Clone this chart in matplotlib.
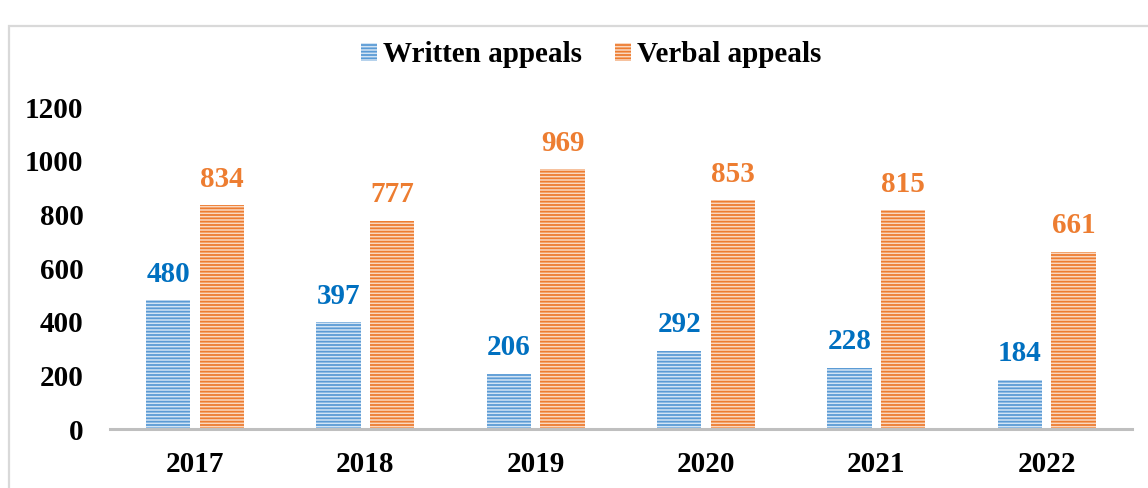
import matplotlib
matplotlib.use("Agg")
import matplotlib.pyplot as plt
import numpy as np
from matplotlib.patches import Rectangle

years = ["2017", "2018", "2019", "2020", "2021", "2022"]
written = [480, 397, 206, 292, 228, 184]
verbal = [834, 777, 969, 853, 815, 661]
series_names = ["Written appeals", "Verbal appeals"]
yticks = [0, 200, 400, 600, 800, 1000, 1200]

plt.rcParams['font.family'] = ['Liberation Serif', 'DejaVu Serif']
plt.rcParams['hatch.linewidth'] = 1.3

fig = plt.figure(figsize=(11.48, 4.88), dpi=100)
ax = fig.add_axes([0.0958, 0.1209, 0.8902, 0.6598])

x = np.arange(len(years))
w = 0.26
gap = 0.055
blue_line, blue_fill = "#5B9BD5", "#D3E4F4"
orange_line, orange_fill = "#ED7D31", "#FAD8C1"

FS = 21

b1 = ax.bar(x - (w + gap) / 2, written, w, color=blue_fill, edgecolor=blue_line,
            linewidth=0, hatch="-----", label=series_names[0])
b2 = ax.bar(x + (w + gap) / 2, verbal, w, color=orange_fill, edgecolor=orange_line,
            linewidth=0, hatch="-----", label=series_names[1])

for xi, v in zip(x - (w + gap) / 2, written):
    ax.annotate(str(v), (xi, v), xytext=(0, 9), textcoords="offset points",
                ha="center", va="bottom", fontsize=FS, fontweight="bold", color="#0070C0")
for xi, v in zip(x + (w + gap) / 2, verbal):
    ax.annotate(str(v), (xi, v), xytext=(0, 9), textcoords="offset points",
                ha="center", va="bottom", fontsize=FS, fontweight="bold", color="#ED7D31")

ax.set_xlim(-0.5, len(years) - 0.5)
ax.set_ylim(0, 1200)
ax.set_yticks(yticks)
ax.set_yticklabels([str(t) for t in yticks], fontsize=FS, fontweight="bold")
ax.set_xticks(x)
ax.set_xticklabels(years, fontsize=FS, fontweight="bold")
ax.tick_params(axis="both", length=0)
ax.tick_params(axis="y", pad=19)
ax.tick_params(axis="x", pad=16)
for s in ["top", "right", "left"]:
    ax.spines[s].set_visible(False)
ax.spines["bottom"].set_color("#BFBFBF")
ax.spines["bottom"].set_linewidth(2.2)

leg = fig.legend(handles=[b1, b2], loc="center", bbox_to_anchor=(0.515, 0.888),
                 ncol=2, frameon=False, prop={"size": FS, "weight": "bold"},
                 handlelength=0.55, handleheight=0.6, handletextpad=0.2, columnspacing=1.15)

fig.patches.append(Rectangle((9 / 1148, -0.1), 1.2, 1.0734 - 13 / 488,
                             transform=fig.transFigure, fill=False,
                             edgecolor="#D9D9D9", linewidth=1.6))

fig.savefig("out.png", dpi=100)
